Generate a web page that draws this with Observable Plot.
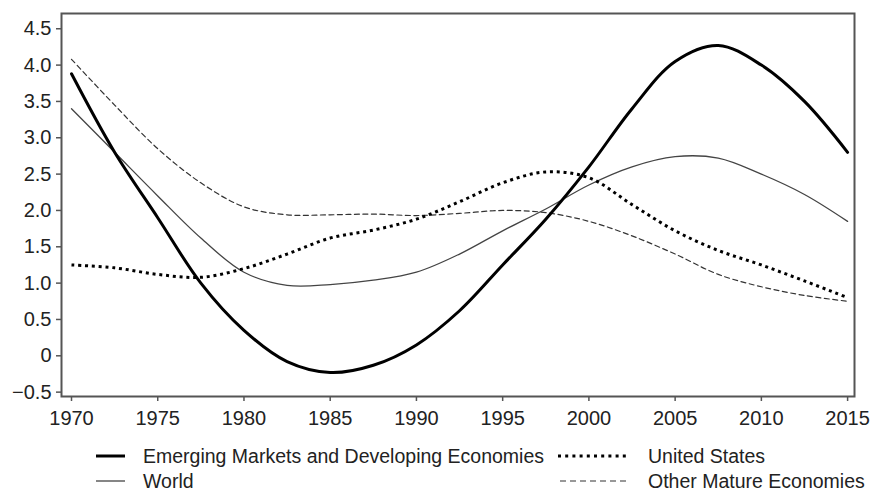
<!DOCTYPE html>
<html>
<head>
<meta charset="utf-8">
<script src="https://cdn.jsdelivr.net/npm/d3@7"></script>
<script src="https://cdn.jsdelivr.net/npm/@observablehq/plot@0.6"></script>
<style>
  html, body { margin: 0; padding: 0; background: #fff; }
  #wrap { position: relative; width: 870px; height: 492px; font-family: "Liberation Sans", Arial, sans-serif; color: #222; }
  #legend { position: absolute; left: 0; top: 430px; }
</style>
</head>
<body>
<div id="wrap"><div id="chart"></div><svg id="legend" width="870" height="62"></svg></div>
<script>
const years = [1970, 1972.5, 1975, 1977.5, 1980, 1982.5, 1985, 1987.5, 1990, 1992.5, 1995, 1997.5, 2000, 2002.5, 2005, 2007.5, 2010, 2012.5, 2015];

const emValues    = [3.88, 2.8, 1.9, 1.0, 0.35, -0.08, -0.23, -0.13, 0.15, 0.62, 1.25, 1.88, 2.6, 3.4, 4.05, 4.27, 4.0, 3.5, 2.8];
const worldValues = [3.4, 2.8, 2.2, 1.62, 1.15, 0.97, 0.98, 1.04, 1.15, 1.4, 1.72, 2.02, 2.35, 2.6, 2.74, 2.72, 2.5, 2.22, 1.85];
const usValues    = [1.25, 1.21, 1.12, 1.08, 1.2, 1.4, 1.62, 1.73, 1.88, 2.12, 2.38, 2.53, 2.45, 2.08, 1.72, 1.45, 1.25, 1.03, 0.8];
const omValues    = [4.08, 3.45, 2.85, 2.38, 2.05, 1.94, 1.94, 1.95, 1.93, 1.96, 2.0, 1.97, 1.85, 1.65, 1.4, 1.12, 0.95, 0.83, 0.75];

const xTicks = [1970, 1975, 1980, 1985, 1990, 1995, 2000, 2005, 2010, 2015];
const yTicks = [-0.5, 0, 0.5, 1.0, 1.5, 2.0, 2.5, 3.0, 3.5, 4.0, 4.5];

const seriesNames = ["Emerging Markets and Developing Economies", "United States", "World", "Other Mature Economies"];

const toRows = values => years.map((x, i) => ({x, y: values[i]}));
const em = toRows(emValues);
const world = toRows(worldValues);
const us = toRows(usValues);
const om = toRows(omValues);

const fmtY = d => d === 0 ? "0" : d.toFixed(1).replace("-", "\u2212");
const curve = "catmull-rom";

const chart = Plot.plot({
  width: 870,
  height: 430,
  marginLeft: 61,
  marginRight: 16,
  marginTop: 13,
  marginBottom: 34,
  style: { fontFamily: "Liberation Sans, Arial, sans-serif", fontSize: "20px", color: "#222", background: "#fff" },
  x: { domain: [1969.42, 2015.4], ticks: xTicks, tickFormat: d => String(d) },
  y: { domain: [-0.56, 4.71], ticks: yTicks, tickFormat: fmtY },
  marks: [
    Plot.axisX({ ticks: xTicks, tickFormat: d => String(d), tickSize: 5, tickPadding: 9, stroke: "#555", strokeWidth: 1.5, label: null, fontSize: 20 }),
    Plot.axisY({ ticks: yTicks, tickFormat: fmtY, tickSize: 5, tickPadding: 5, stroke: "#555", strokeWidth: 1.5, label: null, fontSize: 20 }),
    Plot.line(om, { x: "x", y: "y", curve, stroke: "#333", strokeWidth: 1.2, strokeDasharray: "5,3.5" }),
    Plot.line(world, { x: "x", y: "y", curve, stroke: "#444", strokeWidth: 1.3 }),
    Plot.line(us, { x: "x", y: "y", curve, stroke: "#000", strokeWidth: 3, strokeDasharray: "3,3.8", strokeLinecap: "butt" }),
    Plot.line(em, { x: "x", y: "y", curve, stroke: "#000", strokeWidth: 3 }),
    Plot.frame({ stroke: "#555", strokeWidth: 2 })
  ]
});
document.getElementById("chart").appendChild(chart);

// legend
const lg = d3.select("#legend");
const items = [
  { name: seriesNames[0], x1: 96, x2: 125, tx: 143, y: 26, w: 3, dash: null, color: "#000" },
  { name: seriesNames[1], x1: 558, x2: 630, tx: 648, y: 26, w: 3, dash: "3,4.2", color: "#000" },
  { name: seriesNames[2], x1: 96, x2: 125, tx: 143, y: 51, w: 1.3, dash: null, color: "#444" },
  { name: seriesNames[3], x1: 560, x2: 630, tx: 648, y: 51, w: 1.2, dash: "6,4", color: "#333" }
];
items.forEach(it => {
  const l = lg.append("line").attr("x1", it.x1).attr("x2", it.x2).attr("y1", it.y).attr("y2", it.y)
    .attr("stroke", it.color).attr("stroke-width", it.w);
  if (it.dash) l.attr("stroke-dasharray", it.dash);
  lg.append("text").attr("x", it.tx).attr("y", it.y).attr("dy", "0.35em")
    .attr("font-family", "Liberation Sans, Arial, sans-serif").attr("font-size", 19.5).attr("fill", "#222")
    .text(it.name);
});
</script>
</body>
</html>
